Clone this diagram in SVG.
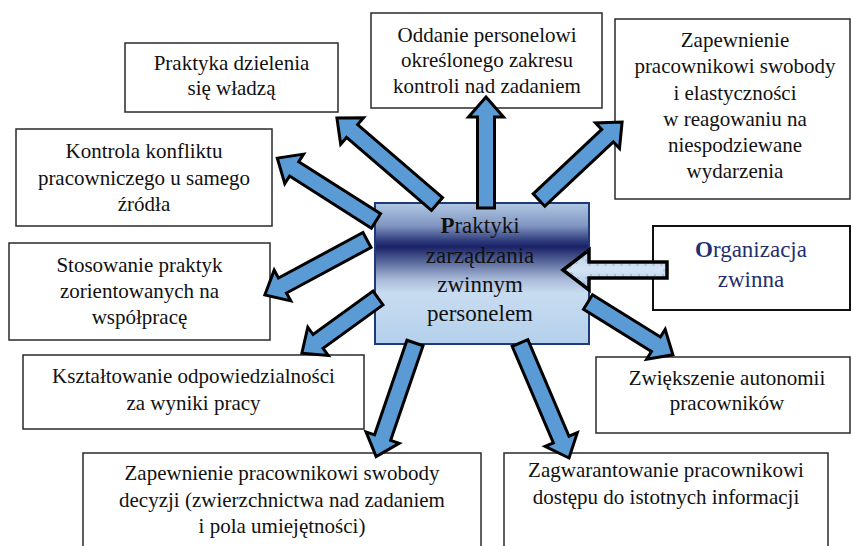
<svg xmlns="http://www.w3.org/2000/svg" width="851" height="546" viewBox="0 0 851 546" font-family="Liberation Serif, Tinos, Noto Serif, DejaVu Serif, FreeSerif, Times New Roman, serif">
<defs>
<style>
.box{fill:#fff;stroke:#2a2a2a;stroke-width:1.5}
.t{font-size:21px;fill:#111;text-anchor:middle}
.tc{font-size:23px;fill:#111;text-anchor:middle}
.to{font-size:23px;fill:#1f2f6e;text-anchor:middle}
.arr{fill:#5b9bd5;stroke:#000;stroke-width:3;stroke-linejoin:miter}
</style>
<linearGradient id="cg" x1="0" y1="0" x2="0" y2="1">
<stop offset="0" stop-color="#b0c8e4"/>
<stop offset="0.16" stop-color="#8196c2"/>
<stop offset="0.27" stop-color="#2e3a7c"/>
<stop offset="0.31" stop-color="#1a2266"/>
<stop offset="0.40" stop-color="#4d5d92"/>
<stop offset="0.54" stop-color="#a8b9d8"/>
<stop offset="0.64" stop-color="#c8dcf0"/>
<stop offset="1" stop-color="#b4d0ec"/>
</linearGradient>
<linearGradient id="ag" x1="0" y1="0" x2="0" y2="1">
<stop offset="0" stop-color="#a9c4e2"/>
<stop offset="0.5" stop-color="#d4e4f4"/>
<stop offset="1" stop-color="#b7cfe9"/>
</linearGradient>
</defs>

<g id="center">
<rect x="375" y="203" width="214" height="141" fill="url(#cg)" stroke="#1f3a7a" stroke-width="2"/>
<text class="tc" x="480" y="233" font-family="Liberation Serif"><tspan font-weight="bold">P</tspan>raktyki</text>
<text class="tc" x="480" y="263">zarządzania</text>
<text class="tc" x="480" y="292">zwinnym</text>
<text class="tc" x="480" y="321">personelem</text>
</g>

<g id="n1"><rect class="box" x="125" y="43" width="213" height="69"/>
<text class="t" x="231.5" y="70">Praktyka dzielenia</text>
<text class="t" x="231.5" y="95">się władzą</text></g>

<g id="n2"><rect class="box" x="371" y="13" width="231" height="95"/>
<text class="t" x="487" y="42">Oddanie personelowi</text>
<text class="t" x="487" y="67">określonego zakresu</text>
<text class="t" x="487" y="93">kontroli nad zadaniem</text></g>

<g id="n3"><rect class="box" x="615" y="19" width="235" height="180"/>
<text class="t" x="735" y="47">Zapewnienie</text>
<text class="t" x="735" y="73">pracownikowi swobody</text>
<text class="t" x="735" y="99.5">i elastyczności</text>
<text class="t" x="735" y="125.5">w reagowaniu na</text>
<text class="t" x="735" y="152">niespodziewane</text>
<text class="t" x="735" y="178">wydarzenia</text></g>

<g id="n4"><rect class="box" x="16" y="129" width="256" height="97"/>
<text class="t" x="144" y="158">Kontrola konfliktu</text>
<text class="t" x="144" y="185">pracowniczego u samego</text>
<text class="t" x="144" y="211">źródła</text></g>

<g id="n5"><rect class="box" x="9" y="243" width="261" height="97"/>
<text class="t" x="139.5" y="272">Stosowanie praktyk</text>
<text class="t" x="139.5" y="298">zorientowanych na</text>
<text class="t" x="139.5" y="324">współpracę</text></g>

<g id="n6"><rect class="box" x="23" y="355" width="341" height="74"/>
<text class="t" x="193.5" y="383">Kształtowanie odpowiedzialności</text>
<text class="t" x="193.5" y="410">za wyniki pracy</text></g>

<g id="n7"><rect class="box" x="83" y="453" width="398" height="110"/>
<text class="t" x="282" y="480">Zapewnienie pracownikowi swobody</text>
<text class="t" x="282" y="507">decyzji (zwierzchnictwa nad zadaniem</text>
<text class="t" x="282" y="533">i pola umiejętności)</text></g>

<g id="n8"><rect class="box" x="504" y="453" width="324" height="110"/>
<text class="t" x="666" y="477">Zagwarantowanie pracownikowi</text>
<text class="t" x="666" y="504">dostępu do istotnych informacji</text></g>

<g id="n9"><rect class="box" x="596" y="357" width="254" height="76"/>
<text class="t" x="727" y="385">Zwiększenie autonomii</text>
<text class="t" x="727" y="410">pracowników</text></g>

<g id="n10"><rect x="653" y="226" width="197" height="84" fill="#fff" stroke="#111" stroke-width="2"/>
<text class="to" x="751" y="257"><tspan font-weight="bold">O</tspan>rganizacja</text>
<text class="to" x="751" y="287">zwinna</text></g>

<g id="connectors">
<path class="arr" transform="translate(437,204) rotate(-139.3)" d="M0,-8.5H112V-17.5L132,0L112,17.5V8.5H0Z"/>
<path class="arr" transform="translate(486,208) rotate(-90)" d="M0,-8.5H91V-17.5L111,0L91,17.5V8.5H0Z"/>
<path class="arr" transform="translate(539,200) rotate(-43.2)" d="M0,-8.5H94V-17.5L114,0L94,17.5V8.5H0Z"/>
<path class="arr" transform="translate(376,221) rotate(-147.5)" d="M0,-8.5H97V-17.5L117,0L97,17.5V8.5H0Z"/>
<path class="arr" transform="translate(367,240) rotate(151.7)" d="M0,-8.5H96V-17.5L116,0L96,17.5V8.5H0Z"/>
<path class="arr" transform="translate(378,298) rotate(144.1)" d="M0,-8.5H74V-17.5L94,0L74,17.5V8.5H0Z"/>
<path class="arr" transform="translate(415,343) rotate(108.9)" d="M0,-8.5H100V-17.5L120,0L100,17.5V8.5H0Z"/>
<path class="arr" transform="translate(520,343) rotate(66.9)" d="M0,-8.5H105V-17.5L125,0L105,17.5V8.5H0Z"/>
<path class="arr" transform="translate(588,302) rotate(31.9)" d="M0,-8.5H80V-17.5L100,0L80,17.5V8.5H0Z"/>
<g transform="translate(667,270) rotate(180)">
<path d="M0,-8H78V-20L104,0L78,20V8H0Z" fill="url(#ag)" stroke="#000" stroke-width="3.5"/>
<path d="M3,-5H81V-14L99,0L81,14V5H3Z" fill="none" stroke="#8ea4bf" stroke-width="1" stroke-dasharray="2,6"/>
</g>
</g>
</svg>
